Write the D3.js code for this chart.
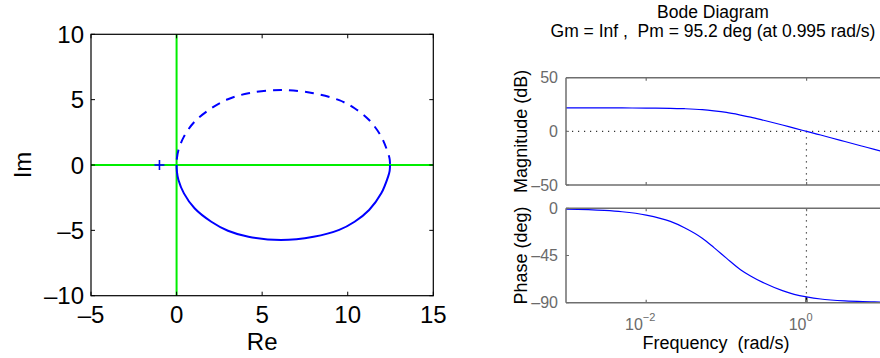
<!DOCTYPE html>
<html>
<head>
<meta charset="utf-8">
<script src="https://cdn.jsdelivr.net/npm/d3@7"></script>
<style>
  html, body { margin: 0; padding: 0; background: #fff; }
  svg { display: block; font-family: "Liberation Sans", Arial, Helvetica, sans-serif; }
</style>
</head>
<body>
<svg id="chart" width="880" height="358"></svg>
<script>
// ---------------- DATA ----------------
// Nyquist: branch for positive frequencies (solid)
const nyqRe = [12.47, 12.45, 12.36, 11.96, 11.25, 10.4, 9.5, 8.0, 6.1, 4.2, 3.0, 2.03, 1.05, 0.43, 0.11, 0.02, 0];
const nyqIm = [0, -0.45, -0.89, -2.17, -3.44, -4.34, -4.96, -5.49, -5.74, -5.49, -5.03, -4.34, -3.31, -2.17, -1.15, -0.5, 0];
const criticalPoint = [-1, 0];
const nyqXTicks = [-5, 0, 5, 10, 15];
const nyqYTicks = [-10, -5, 0, 5, 10];

// Bode data
const freq     = [0.001, 0.003, 0.005, 0.01, 0.02, 0.03, 0.05, 0.07, 0.1, 0.15, 0.2, 0.3, 0.5, 0.7, 1, 1.5, 2, 3, 5, 7, 10];
const magDb    = [21.8, 21.8, 21.8, 21.7, 21.5, 21.1, 20.2, 19.1, 17.6, 15.2, 13.3, 10.1, 5.9, 3.0, 0, -3.4, -6.0, -9.5, -13.9, -16.8, -19.9];
const phaseDeg = [-0.8, -2.0, -3.3, -6.5, -12.5, -18.5, -28.5, -37.5, -47.5, -58.5, -64.5, -71.5, -78.5, -82, -84.5, -86.5, -87.4, -88.3, -89.0, -89.3, -89.5];
const magTicks = [50, 0, -50];
const phaseTicks = [0, -45, -90];
const freqTicks = [0.01, 1];
const freqTickExp = ["\u22122", "0"];
const crossFreq = 0.995;
const crossPhase = -84.8;
const titleLines = ["Bode Diagram", "Gm = Inf ,  Pm = 95.2 deg (at 0.995 rad/s)"];

// ---------------- DRAW ----------------
const svg = d3.select("#chart");
const fmt = v => (v < 0 ? "\u2013" + Math.abs(v) : String(v));

// ===== Nyquist =====
const nx = d3.scaleLinear().domain([-5, 15]).range([91, 433.3]);
const ny = d3.scaleLinear().domain([-10, 10]).range([295.7, 34.3]);
const gN = svg.append("g");
const defs = gN.append("defs");

defs.append("clipPath").attr("id", "clipLow")
  .append("rect").attr("x", nx(-5)).attr("y", ny(0))
  .attr("width", nx(15) - nx(-5)).attr("height", ny(-10) - ny(0));
defs.append("clipPath").attr("id", "clipUp")
  .append("rect").attr("x", nx(-5)).attr("y", ny(10))
  .attr("width", nx(15) - nx(-5)).attr("height", ny(0) - ny(10));

// axes green lines
gN.append("line").attr("x1", nx(-5)).attr("x2", nx(15)).attr("y1", ny(0)).attr("y2", ny(0))
  .attr("stroke", "#00ee00").attr("stroke-width", 2);
gN.append("line").attr("x1", nx(0)).attr("x2", nx(0)).attr("y1", ny(10)).attr("y2", ny(-10))
  .attr("stroke", "#00ee00").attr("stroke-width", 2);

// closed loop: negative-frequency branch (conjugate) from origin to the real-axis crossing, then positive branch back
const n = nyqRe.length;
const loop = [];
for (let i = n - 1; i >= 0; i--) loop.push([nyqRe[i], -nyqIm[i]]);
for (let i = 1; i < n - 1; i++) loop.push([nyqRe[i], nyqIm[i]]);
const nLine = d3.line().x(d => nx(d[0])).y(d => ny(d[1])).curve(d3.curveCatmullRomClosed.alpha(0.5));
const loopD = nLine(loop);

gN.append("path").attr("d", loopD).attr("fill", "none")
  .attr("stroke", "#0000ff").attr("stroke-width", 2).attr("clip-path", "url(#clipLow)");
gN.append("path").attr("d", loopD).attr("fill", "none")
  .attr("stroke", "#0000ff").attr("stroke-width", 2).attr("stroke-dasharray", "9,7")
  .attr("clip-path", "url(#clipUp)");

// critical point marker "+"
const cp = gN.append("g").attr("transform", `translate(${nx(criticalPoint[0])},${ny(criticalPoint[1])})`);
cp.append("line").attr("x1", -5).attr("x2", 5).attr("y1", 0).attr("y2", 0).attr("stroke", "#0000ff").attr("stroke-width", 1.6);
cp.append("line").attr("x1", 0).attr("x2", 0).attr("y1", -5).attr("y2", 5).attr("stroke", "#0000ff").attr("stroke-width", 1.6);

// box + ticks
gN.append("rect").attr("x", nx(-5)).attr("y", ny(10)).attr("width", nx(15) - nx(-5))
  .attr("height", ny(-10) - ny(10)).attr("fill", "none").attr("stroke", "#000").attr("stroke-width", 1.2);
const tl = 4;
nyqXTicks.forEach(t => {
  gN.append("line").attr("x1", nx(t)).attr("x2", nx(t)).attr("y1", ny(-10)).attr("y2", ny(-10) - tl).attr("stroke", "#000");
  gN.append("line").attr("x1", nx(t)).attr("x2", nx(t)).attr("y1", ny(10)).attr("y2", ny(10) + tl).attr("stroke", "#000");
  gN.append("text").attr("x", nx(t)).attr("y", 323).attr("text-anchor", "middle")
    .attr("font-size", 24).attr("fill", "#000").text(fmt(t));
});
nyqYTicks.forEach(t => {
  gN.append("line").attr("x1", nx(-5)).attr("x2", nx(-5) + tl).attr("y1", ny(t)).attr("y2", ny(t)).attr("stroke", "#000");
  gN.append("line").attr("x1", nx(15)).attr("x2", nx(15) - tl).attr("y1", ny(t)).attr("y2", ny(t)).attr("stroke", "#000");
  gN.append("text").attr("x", 84).attr("y", ny(t) + 8.5).attr("text-anchor", "end")
    .attr("font-size", 24).attr("fill", "#000").text(fmt(t));
});
gN.append("text").attr("x", (nx(-5) + nx(15)) / 2).attr("y", 350).attr("text-anchor", "middle")
  .attr("font-size", 24).text("Re");
gN.append("text").attr("transform", `translate(31,${ny(0)}) rotate(-90)`).attr("text-anchor", "middle")
  .attr("font-size", 24).text("Im");

// ===== Bode =====
const bx = d3.scaleLog().domain([1e-3, 1e1]).range([566, 886.8]);
const my = d3.scaleLinear().domain([-50, 50]).range([185, 77.7]);
const py = d3.scaleLinear().domain([-90, 0]).range([302.7, 208.3]);
const gB = svg.append("g");
const axCol = "#6e6e6e";
const tickTxt = "#6a6a6a";

// title
titleLines.forEach((s, i) => {
  gB.append("text").attr("x", 713).attr("y", 18 + i * 18.5).attr("text-anchor", "middle")
    .attr("font-size", 17.5).attr("fill", "#000").style("white-space", "pre").text(s);
});

// margin reference lines (dotted)
gB.append("line").attr("x1", bx(1e-3)).attr("x2", 886).attr("y1", my(0)).attr("y2", my(0))
  .attr("stroke", "#333").attr("stroke-width", 1.2).attr("stroke-dasharray", "1.2,4.8");
gB.append("line").attr("x1", bx(crossFreq)).attr("x2", bx(crossFreq)).attr("y1", my(0)).attr("y2", my(-50))
  .attr("stroke", "#333").attr("stroke-width", 1.2).attr("stroke-dasharray", "1.2,4.8");
gB.append("line").attr("x1", bx(crossFreq)).attr("x2", bx(crossFreq)).attr("y1", py(0)).attr("y2", py(crossPhase))
  .attr("stroke", "#333").attr("stroke-width", 1.2).attr("stroke-dasharray", "1.2,4.8");
gB.append("line").attr("x1", bx(crossFreq)).attr("x2", bx(crossFreq)).attr("y1", py(crossPhase)).attr("y2", py(-90))
  .attr("stroke", "#000").attr("stroke-width", 2);

// curves
const magLine = d3.line().x((d, i) => bx(freq[i])).y(d => my(d)).curve(d3.curveMonotoneX);
const phLine = d3.line().x((d, i) => bx(freq[i])).y(d => py(d)).curve(d3.curveMonotoneX);
gB.append("path").attr("d", magLine(magDb)).attr("fill", "none").attr("stroke", "#0000ff").attr("stroke-width", 1.2);
gB.append("path").attr("d", phLine(phaseDeg)).attr("fill", "none").attr("stroke", "#0000ff").attr("stroke-width", 1.2);

// axes boxes
function box(yTop, yBot) {
  gB.append("line").attr("x1", 566).attr("x2", 886).attr("y1", yTop).attr("y2", yTop).attr("stroke", axCol).attr("stroke-width", 1.5);
  gB.append("line").attr("x1", 566).attr("x2", 886).attr("y1", yBot).attr("y2", yBot).attr("stroke", axCol).attr("stroke-width", 1.5);
  gB.append("line").attr("x1", 566).attr("x2", 566).attr("y1", yTop).attr("y2", yBot).attr("stroke", axCol).attr("stroke-width", 1.5);
  freqTicks.forEach(f => {
    gB.append("line").attr("x1", bx(f)).attr("x2", bx(f)).attr("y1", yTop).attr("y2", yTop + 3).attr("stroke", axCol).attr("stroke-width", 1.2);
    gB.append("line").attr("x1", bx(f)).attr("x2", bx(f)).attr("y1", yBot).attr("y2", yBot - 3).attr("stroke", axCol).attr("stroke-width", 1.2);
  });
}
box(my(50), my(-50));
box(py(0), py(-90));

magTicks.forEach(t => {
  gB.append("line").attr("x1", 566).attr("x2", 569).attr("y1", my(t)).attr("y2", my(t)).attr("stroke", axCol);
  gB.append("text").attr("x", 558).attr("y", my(t) + 5.6).attr("text-anchor", "end")
    .attr("font-size", 16).attr("fill", tickTxt).text(fmt(t));
});
phaseTicks.forEach(t => {
  gB.append("line").attr("x1", 566).attr("x2", 569).attr("y1", py(t)).attr("y2", py(t)).attr("stroke", axCol);
  gB.append("text").attr("x", 558).attr("y", py(t) + 5.6).attr("text-anchor", "end")
    .attr("font-size", 16).attr("fill", tickTxt).text(fmt(t));
});
freqTicks.forEach((f, i) => {
  const t = gB.append("text").attr("x", bx(f) - 6).attr("y", 330).attr("text-anchor", "middle")
    .attr("font-size", 16).attr("fill", tickTxt);
  t.append("tspan").text("10");
  t.append("tspan").attr("dy", -9).attr("font-size", 11).text(freqTickExp[i]);
});

gB.append("text").attr("transform", `translate(527,${(my(50) + my(-50)) / 2}) rotate(-90)`)
  .attr("text-anchor", "middle").attr("font-size", 18).attr("fill", "#000").text("Magnitude (dB)");
gB.append("text").attr("transform", `translate(527,${(py(0) + py(-90)) / 2}) rotate(-90)`)
  .attr("text-anchor", "middle").attr("font-size", 18).attr("fill", "#000").text("Phase (deg)");
gB.append("text").attr("x", 716).attr("y", 349).attr("text-anchor", "middle")
  .attr("font-size", 18).attr("fill", "#000").style("white-space", "pre").text("Frequency  (rad/s)");
</script>
</body>
</html>
